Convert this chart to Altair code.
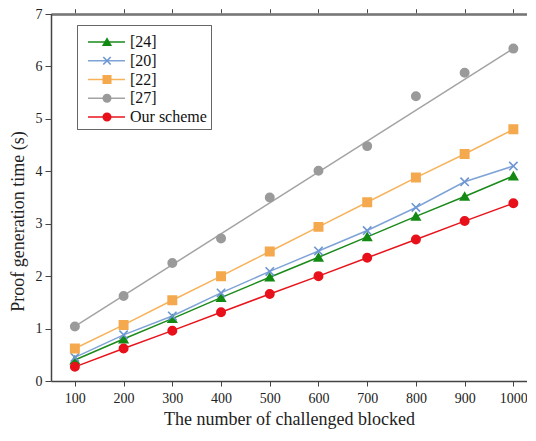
import altair as alt
import pandas as pd

x_vals = [100, 200, 300, 400, 500, 600, 700, 800, 900, 1000]
series_names = ["[24]", "[20]", "[22]", "[27]", "Our scheme"]
s24 = [0.40, 0.80, 1.19, 1.59, 1.98, 2.36, 2.75, 3.14, 3.52, 3.91]
s20 = [0.45, 0.88, 1.24, 1.68, 2.09, 2.48, 2.87, 3.31, 3.80, 4.10]
s22 = [0.62, 1.07, 1.54, 2.00, 2.47, 2.94, 3.41, 3.88, 4.33, 4.80]
s27 = [1.04, 1.62, 2.25, 2.72, 3.50, 4.01, 4.48, 5.43, 5.88, 6.34]
s_our = [0.27, 0.62, 0.96, 1.31, 1.66, 2.00, 2.35, 2.70, 3.05, 3.39]

line_colors = ["#1a8a1a", "#7fa3d6", "#f7b35c", "#a3a3a3", "#e8141c"]
marker_colors = ["#138a13", "#6d96d2", "#f5a94e", "#9a9a9a", "#e8101a"]
shapes = ["triangle-up", "M-1,-1L1,1M-1,1L1,-1", "square", "circle", "circle"]
line_symbol = "M-0.2,0H7.2"

rows = []
for name, vals in zip(series_names, [s24, s20, s22, s27, s_our]):
    for x, v in zip(x_vals, vals):
        rows.append({"x": x, "y": v, "series": name, "series_m": name})
df = pd.DataFrame(rows)

FONT = "Liberation Serif"

xscale = alt.Scale(domain=[51, 1028], nice=False, zero=False)
yscale = alt.Scale(domain=[0, 7], nice=False)

xaxis = alt.Axis(values=x_vals, format="d", title="The number of challenged blocked", grid=False,
                 labelFont=FONT, titleFont=FONT, labelFontSize=14, titleFontSize=18,
                 titleFontWeight="normal", labelColor="#222", titleColor="#222",
                 domainColor="#444", domainWidth=1.5, tickColor="#444", tickSize=5,
                 labelPadding=5, titlePadding=5)
yaxis = alt.Axis(values=list(range(0, 8)), title="Proof generation time (s)", grid=False,
                 labelFont=FONT, titleFont=FONT, labelFontSize=14, titleFontSize=18,
                 titleFontWeight="normal", labelColor="#222", titleColor="#222",
                 domainColor="#444", domainWidth=1.5, tickColor="#444", tickSize=6,
                 labelPadding=3, titlePadding=8, titleY=207, titleAngle=270)

LEG_X, LEG_Y, LEG_PAD = 26, 11, 4
LEG_COMMON = dict(title=" ", titleFontSize=5, titlePadding=0, orient="none", legendY=LEG_Y,
                  labelFont=FONT, labelFontSize=16, padding=LEG_PAD, rowPadding=2.75)

color_line = alt.Color("series:N", scale=alt.Scale(domain=series_names, range=line_colors),
                       legend=alt.Legend(legendX=LEG_X, labelColor="#111",
                                         symbolType=line_symbol, symbolSize=100, symbolStrokeWidth=1.5,
                                         strokeColor="#666", labelOffset=33, fillColor="white",
                                         **LEG_COMMON))

base = alt.Chart(df)

lines = base.transform_filter(alt.datum.series != "[27]").mark_line(strokeWidth=1.5).encode(
    x=alt.X("x:Q", scale=xscale, axis=xaxis),
    y=alt.Y("y:Q", scale=yscale, axis=yaxis),
    color=color_line,
    detail="series:N",
)

gray_line = base.transform_filter(
    (alt.datum.series == "[27]") & ((alt.datum.x == 100) | (alt.datum.x == 1000))
).mark_line(strokeWidth=1.5).encode(
    x=alt.X("x:Q", scale=xscale, axis=xaxis),
    y=alt.Y("y:Q", scale=yscale, axis=yaxis),
    color=color_line,
)

points = base.mark_point(filled=False, strokeWidth=1.6, opacity=1).encode(
    x=alt.X("x:Q", scale=xscale, axis=xaxis),
    y=alt.Y("y:Q", scale=yscale, axis=yaxis),
    color=alt.Color("series_m:N", scale=alt.Scale(domain=series_names, range=marker_colors),
                    legend=alt.Legend(legendX=LEG_X + 18, labelOpacity=0,
                                      symbolSize=55, symbolStrokeWidth=1.6, labelOffset=3,
                                      **LEG_COMMON)),
    fill=alt.Fill("series_m:N", scale=alt.Scale(domain=series_names, range=marker_colors), legend=None),
    shape=alt.Shape("series_m:N", scale=alt.Scale(domain=series_names, range=shapes), legend=None),
    size=alt.value(70),
)

top_axis = base.mark_point(opacity=0).encode(
    x=alt.X("x:Q", scale=xscale, axis=alt.Axis(orient="top", values=x_vals, labels=False, title=None,
                                                 domainColor="#777", domainWidth=2, tickColor="#777",
                                                 tickSize=2, grid=False)),
    y=alt.Y("y:Q", scale=yscale, axis=yaxis),
)

chart = alt.layer(lines, gray_line, points, top_axis).resolve_scale(
    color="independent", fill="independent", shape="independent"
).resolve_axis(x="independent").properties(
    width=476, height=367,
    padding={"left": 43, "top": 6, "right": 0, "bottom": 52},
    autosize=alt.AutoSizeParams(type="none"),
).configure_view(stroke=None)

chart.save("out.html", embed_options={"renderer": "svg", "actions": False})
